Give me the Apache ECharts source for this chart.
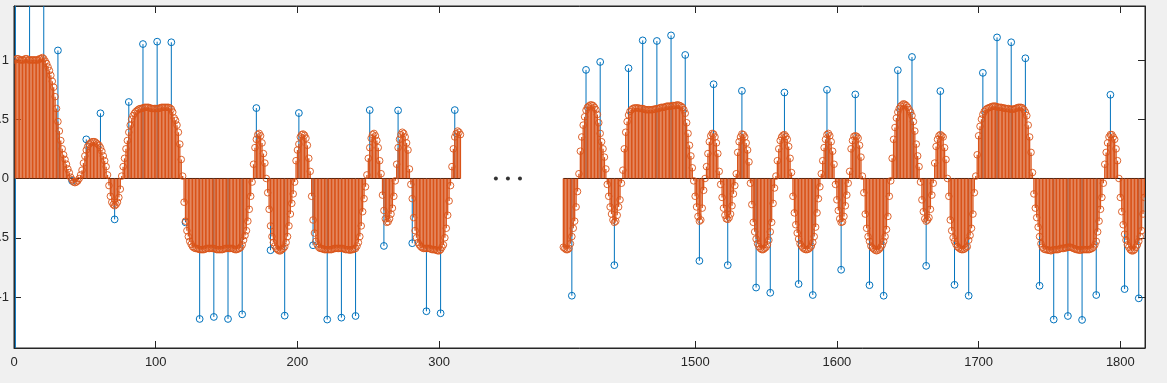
<!DOCTYPE html>
<html><head><meta charset="utf-8">
<script src="https://cdn.jsdelivr.net/npm/echarts@6/dist/echarts.min.js"></script>
<style>html,body{margin:0;padding:0;background:#f0f0f0;}#c{width:1167px;height:383px;}</style>
</head><body><div id="c"></div>
<script>
// ---------------- data ----------------
const orangeLeftStart = 1;   // sample number of first orange value (left block)
const orangeLeft = [
 1.00,1.01,1.01,1.00,1.00,1.00,1.00,1.01,1.01,1.00,1.00,1.00,1.00,1.00,1.00,1.00,1.00,1.01,1.01,1.02,1.01,0.99,
 0.97,0.94,0.91,0.87,0.82,0.77,0.69,0.59,0.48,0.40,0.32,0.25,0.20,0.16,0.12,0.08,0.05,0.01,
 -0.01,-0.03,-0.035,-0.03,-0.02,0.00,0.03,0.07,0.13,0.19,0.24,0.27,0.29,0.30,0.31,0.31,0.31,0.30,0.29,0.28,
 0.26,0.23,0.19,0.15,0.10,0.03,-0.06,-0.15,-0.20,-0.22,-0.23,-0.22,-0.20,-0.16,-0.09,0.02,0.10,0.17,0.25,0.32,
 0.39,0.45,0.50,0.53,0.55,0.565,0.575,0.585,0.59,0.59,0.595,0.60,0.60,0.60,0.60,0.595,0.59,0.59,0.59,0.59,
 0.59,0.59,0.595,0.60,0.60,0.60,0.60,0.60,0.60,0.595,0.585,0.56,0.51,0.49,0.45,0.39,0.29,0.16,0.02,-0.20,
 -0.36,-0.44,-0.49,-0.53,-0.555,-0.575,-0.585,-0.59,-0.59,-0.595,-0.60,-0.60,-0.60,-0.60,-0.595,-0.59,-0.59,-0.59,-0.59,-0.59,
 -0.59,-0.595,-0.60,-0.60,-0.60,-0.60,-0.60,-0.595,-0.59,-0.59,-0.59,-0.59,-0.59,-0.59,-0.595,-0.60,-0.60,-0.595,-0.59,-0.58,
 -0.56,-0.52,-0.48,-0.44,-0.36,-0.26,-0.15,-0.03,0.12,0.26,0.33,0.37,0.38,0.36,0.30,0.21,0.13,0.00,-0.12,-0.26,
 -0.40,-0.49,-0.54,-0.57,-0.59,-0.60,-0.61,-0.61,-0.60,-0.59,-0.575,-0.54,-0.49,-0.40,-0.30,-0.21,-0.13,-0.03,0.15,0.24,
 0.29,0.35,0.37,0.375,0.365,0.34,0.28,0.17,0.06,-0.15,-0.35,-0.46,-0.53,-0.56,-0.58,-0.59,-0.59,-0.595,-0.60,-0.60,
 -0.60,-0.60,-0.60,-0.60,-0.595,-0.59,-0.59,-0.59,-0.59,-0.59,-0.59,-0.59,-0.595,-0.60,-0.60,-0.60,-0.605,-0.60,-0.60,-0.595,
 -0.59,-0.57,-0.54,-0.49,-0.40,-0.28,-0.17,-0.07,0.03,0.17,0.26,0.34,0.37,0.38,0.36,0.32,0.26,0.15,0.04,-0.14,
 -0.27,-0.34,-0.37,-0.365,-0.34,-0.30,-0.25,-0.15,-0.02,0.12,0.26,0.33,0.37,0.39,0.38,0.35,0.30,0.24,0.08,-0.05,
 -0.17,-0.33,-0.44,-0.50,-0.54,-0.56,-0.575,-0.585,-0.59,-0.59,-0.59,-0.59,-0.59,-0.595,-0.60,-0.60,-0.60,-0.605,-0.61,-0.61,
 -0.60,-0.58,-0.56,-0.50,-0.42,-0.31,-0.19,-0.06,0.10,0.25,0.35,0.38,0.40,0.39,0.37
];
const orangeRightStart = 1407;
const orangeRight = [
 -0.58,-0.59,-0.60,-0.60,-0.59,-0.55,-0.49,-0.42,-0.36,-0.24,-0.11,0.04,0.23,0.35,
 0.45,0.52,0.575,0.60,0.61,0.62,0.62,0.615,0.60,0.58,0.54,0.47,0.38,0.31,0.25,0.18,0.08,-0.05,-0.15,-0.24,
 -0.30,-0.35,-0.37,-0.36,-0.31,-0.24,-0.18,-0.04,0.07,0.25,0.39,0.48,0.535,0.565,0.58,0.59,0.595,0.595,0.595,0.595,
 0.59,0.59,0.59,0.585,0.58,0.58,0.58,0.58,0.58,0.58,0.585,0.585,0.59,0.59,0.595,0.60,0.60,0.60,0.605,0.61,
 0.61,0.61,0.61,0.615,0.615,0.615,0.62,0.62,0.615,0.61,0.60,0.58,0.55,0.47,0.38,0.28,0.19,0.09,-0.02,-0.15,
 -0.24,-0.32,-0.36,-0.35,-0.25,-0.10,0.00,0.10,0.21,0.31,0.36,0.38,0.375,0.35,0.30,0.21,0.06,-0.05,-0.16,-0.25,
 -0.31,-0.34,-0.345,-0.33,-0.30,-0.23,-0.13,-0.06,0.04,0.22,0.31,0.35,0.375,0.37,0.35,0.30,0.24,0.14,-0.04,-0.22,
 -0.37,-0.45,-0.51,-0.55,-0.575,-0.59,-0.60,-0.60,-0.59,-0.58,-0.56,-0.52,-0.45,-0.37,-0.21,-0.08,0.02,0.15,0.25,0.32,
 0.35,0.365,0.37,0.355,0.33,0.27,0.17,0.05,-0.15,-0.29,-0.39,-0.46,-0.51,-0.55,-0.57,-0.585,-0.595,-0.60,-0.60,-0.595,
 -0.585,-0.57,-0.54,-0.49,-0.41,-0.29,-0.17,-0.07,0.04,0.15,0.26,0.33,0.37,0.38,0.36,0.31,0.23,0.12,-0.05,-0.18,
 -0.27,-0.34,-0.37,-0.365,-0.32,-0.23,-0.14,-0.04,0.06,0.25,0.32,0.355,0.36,0.355,0.34,0.28,0.18,0.02,-0.12,-0.30,
 -0.42,-0.49,-0.53,-0.57,-0.585,-0.595,-0.605,-0.61,-0.605,-0.595,-0.58,-0.56,-0.53,-0.49,-0.43,-0.32,-0.15,-0.02,0.17,0.33,
 0.43,0.51,0.56,0.59,0.61,0.62,0.63,0.625,0.615,0.60,0.58,0.56,0.53,0.48,0.40,0.29,0.19,0.10,-0.03,-0.18,
 -0.28,-0.34,-0.36,-0.35,-0.33,-0.26,-0.14,-0.04,0.13,0.27,0.33,0.36,0.37,0.36,0.35,0.26,0.16,0.00,-0.15,-0.35,
 -0.44,-0.50,-0.53,-0.555,-0.575,-0.585,-0.595,-0.60,-0.60,-0.595,-0.585,-0.575,-0.52,-0.48,-0.42,-0.30,-0.12,0.02,0.20,0.36,
 0.44,0.50,0.54,0.565,0.58,0.59,0.595,0.60,0.605,0.61,0.61,0.61,0.605,0.60,0.60,0.60,0.595,0.595,0.59,0.59,
 0.59,0.585,0.585,0.585,0.585,0.59,0.595,0.60,0.60,0.60,0.595,0.58,0.56,0.53,0.45,0.35,0.22,0.05,-0.13,-0.25,
 -0.33,-0.41,-0.49,-0.55,-0.58,-0.595,-0.60,-0.60,-0.605,-0.605,-0.61,-0.605,-0.60,-0.60,-0.60,-0.60,-0.595,-0.59,-0.59,-0.59,
 -0.585,-0.585,-0.58,-0.58,-0.58,-0.585,-0.59,-0.595,-0.60,-0.60,-0.605,-0.605,-0.60,-0.60,-0.60,-0.60,-0.60,-0.60,-0.595,-0.59,
 -0.58,-0.56,-0.53,-0.45,-0.36,-0.26,-0.16,-0.04,0.12,0.22,0.30,0.35,0.37,0.37,0.35,0.33,0.25,0.15,0.00,-0.16,
 -0.28,-0.39,-0.47,-0.52,-0.56,-0.58,-0.60,-0.61,-0.61,-0.60,-0.58,-0.56,-0.53,-0.49,-0.44,-0.30,-0.16
];
const blueStep = 10;
const blueLeftStart = 1;
const blueLeft = [2.0,1.6,1.6,1.08,-0.02,0.33,0.55,-0.345,0.645,1.134,1.154,1.149,-0.37,-1.185,-1.168,-1.185,-1.146,
 0.594,-0.605,-1.157,0.552,-0.563,-1.19,-1.174,-1.16,0.577,-0.569,0.574,-0.546,-1.12,-1.137,0.577];
const blueLeftExtra = [[1, -2.0]];
const blueRightStart = 1413;
const blueRight = [-0.989,0.916,0.983,-0.731,0.930,1.165,1.16,1.207,1.042,-0.695,0.795,-0.731,0.739,-0.92,-0.964,
 0.725,-0.89,-0.983,0.748,-0.77,0.709,-0.90,-0.989,0.913,1.025,-0.737,0.737,-0.897,-0.989,0.891,1.19,1.149,1.014,
 -0.905,-1.19,-1.16,-1.193,-0.983,0.706,-0.933,-1.011];
const xTickLabels = [0,100,200,300,1500,1600,1700,1800];
const yTickLabels = [-1,-0.5,0,0.5,1];
const gapDotsX = [340, 348.5, 357];   // the "..." break marker, in axis units

// ---------------- axis break mapping ----------------
const GAP = 1019.4;                    // samples >= 1000 are drawn shifted left by GAP
const toAxis = s => (s >= 1000 ? s - GAP : s);
const xTickPos = xTickLabels.map(toAxis);

const orangeData = orangeLeft.map((v, i) => [toAxis(orangeLeftStart + i), v])
  .concat(orangeRight.map((v, i) => [toAxis(orangeRightStart + i), v]));
const blueData = blueLeft.map((v, i) => [toAxis(blueLeftStart + i * blueStep), v])
  .concat(blueLeftExtra.map(p => [toAxis(p[0]), p[1]]))
  .concat(blueRight.map((v, i) => [toAxis(blueRightStart + i * blueStep), v]));
const baseL = [[toAxis(orangeLeftStart), 0], [toAxis(orangeLeftStart + orangeLeft.length - 1), 0]];
const baseR = [[toAxis(orangeRightStart), 0], [toAxis(orangeRightStart + orangeRight.length - 1), 0]];

const AX = '#262626', BLUE = '#0072BD', ORANGE = '#D95319';
function stem(color, r, lw, cw) {
  return function (params, api) {
    const x = api.value(0), y = api.value(1);
    const p0 = api.coord([x, 0]), p1 = api.coord([x, y]);
    return { type: 'group', children: [
      { type: 'line', shape: { x1: p0[0], y1: p0[1], x2: p1[0], y2: p1[1] }, style: { stroke: color, lineWidth: lw } },
      { type: 'circle', shape: { cx: p1[0], cy: p1[1], r: r }, style: { fill: 'none', stroke: color, lineWidth: cw } }
    ]};
  };
}
const font = { fontFamily: 'Liberation Sans, Arial, sans-serif', fontSize: 13, color: AX };
const xLab = v => { let k = 0; xTickPos.forEach((p, i) => { if (Math.abs(p - v) < Math.abs(xTickPos[k] - v)) k = i; }); return String(xTickLabels[k]); };
const tick = vals => ({ show: true, inside: true, length: 7, lineStyle: { color: AX }, customValues: vals });
const line = { show: true, onZero: false, lineStyle: { color: AX, width: 1 } };

const chart = echarts.init(document.getElementById('c'), null, { renderer: 'canvas' });
chart.setOption({
  animation: false,
  backgroundColor: '#f0f0f0',
  grid: { left: 14, right: 22, top: 6, bottom: 35, outerBoundsMode: 'none', containLabel: false,
          show: true, backgroundColor: '#fff', borderColor: AX, borderWidth: 1 },
  xAxis: [
    { type: 'value', min: 0, max: 798, position: 'bottom', axisLine: line, axisTick: tick(xTickPos),
      axisLabel: Object.assign({ margin: 8, customValues: xTickPos, formatter: xLab }, font),
      splitLine: { show: false } },
    { type: 'value', min: 0, max: 798, position: 'top', axisLine: line, axisTick: tick(xTickPos),
      axisLabel: { show: false }, splitLine: { show: false } }
  ],
  yAxis: [
    { type: 'value', min: -1.43, max: 1.455, position: 'left', axisLine: line, axisTick: tick(yTickLabels),
      axisLabel: Object.assign({ margin: 5, customValues: yTickLabels }, font),
      splitLine: { show: false } },
    { type: 'value', min: -1.43, max: 1.455, position: 'right', axisLine: line, axisTick: tick(yTickLabels),
      axisLabel: { show: false }, splitLine: { show: false } }
  ],
  series: [
    { type: 'line', data: baseL, symbol: 'none', silent: true, z: 1, lineStyle: { color: '#000', width: 1 } },
    { type: 'line', data: baseR, symbol: 'none', silent: true, z: 1, lineStyle: { color: '#000', width: 1 } },
    { type: 'custom', name: 'blue', data: blueData, clip: true, z: 2, renderItem: stem(BLUE, 3.4, 1, 1) },
    { type: 'custom', name: 'orange', data: orangeData, clip: true, z: 3, renderItem: stem(ORANGE, 3.3, 1.3, 0.9) },
    { type: 'scatter', data: gapDotsX.map(x => [x, 0]), symbol: 'circle', symbolSize: 4, z: 4,
      itemStyle: { color: '#000' }, silent: true }
  ]
});
</script></body></html>
